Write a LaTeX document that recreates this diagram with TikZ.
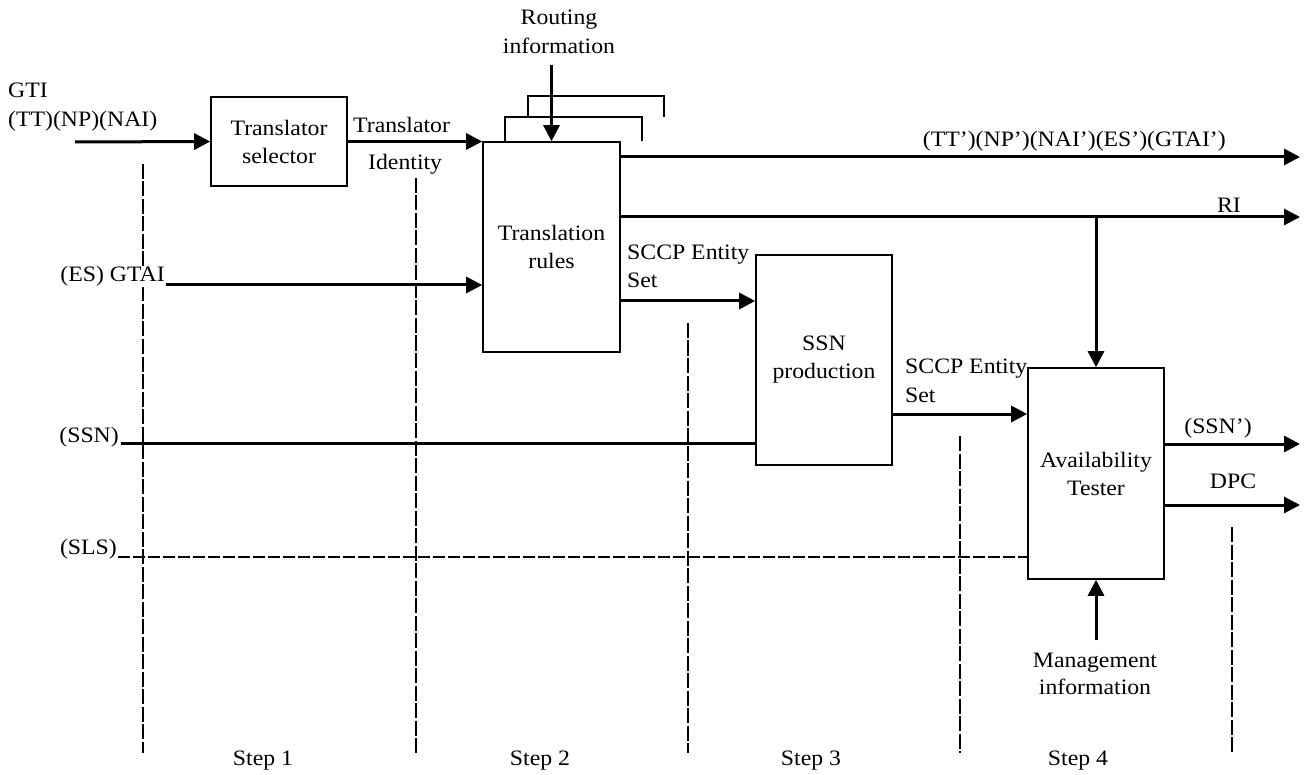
\documentclass[tikz,border=0pt]{standalone}
\usepackage{fontspec}
\setmainfont{Liberation Serif}[FakeStretch=1.08]
\usetikzlibrary{arrows.meta,calc}
\begin{document}
\begin{tikzpicture}[x=1pt,y=-1pt,
  every node/.style={font=\fontsize{22}{28}\selectfont},
  box/.style={draw, line width=1.6pt, align=center, inner sep=0pt},
  lbl/.style={inner sep=0pt, align=left},
  arr/.style={line width=3pt, -{Triangle[length=16pt,width=16pt]}},
  wire/.style={line width=3pt},
  dwire/.style={line width=2.6pt, dash pattern=on 12pt off 3pt},
  stepline/.style={line width=2.4pt, dash pattern=on 15pt off 2.5pt},
  brk/.style={line width=1.6pt}]
\useasboundingbox (0,0) rectangle (1311,775);

% step separators
\coordinate (d1a) at (143,164); \coordinate (d1b) at (143,753);
\coordinate (d2a) at (416,178); \coordinate (d2b) at (416,753);
\coordinate (d3a) at (688,323); \coordinate (d3b) at (688,753);
\coordinate (d4a) at (960,436); \coordinate (d4b) at (960,753);
\coordinate (d5a) at (1232,527); \coordinate (d5b) at (1232,753);
\draw[stepline] (d1a) -- (d1b);
\draw[stepline] (d2a) -- (d2b);
\draw[stepline] (d3a) -- (d3b);
\draw[stepline] (d4a) -- (d4b);
\draw[stepline] (d5a) -- (d5b);

% boxes
\node[box, minimum width=136pt, minimum height=89pt] (ts) at (279,141.5) {Translator\\selector};
\node[box, minimum width=137pt, minimum height=210pt] (tr) at (551.5,247) {Translation\\rules};
\node[box, minimum width=136pt, minimum height=210pt] (ssn) at (824,360) {SSN\\production};
\node[box, minimum width=136pt, minimum height=211pt] (av) at (1096,473.5) {Availability\\Tester};

% stacked brackets behind translation rules
\draw[brk] ($(tr.north west)+(23,0)$) -- ++(0,-24) -- ++(137,0) -- ++(0,24);
\draw[brk] ($(tr.north west)+(46,-24)$) -- ++(0,-21) -- ++(136,0) -- ++(0,21);

% labels
\node[lbl, anchor=base west] (gti) at (8,98) {GTI};
\node[lbl, anchor=base west] (ttnp) at (8,127) {(TT)(NP)(NAI)};
\node[lbl, anchor=base west] (tlab) at (353,133) {Translator};
\node[lbl, anchor=base west] (ilab) at (368,170) {Identity};
\node[lbl, anchor=base] (rlab) at (559,25) {Routing};
\node[lbl, anchor=base] (rlab2) at (559,54) {information};
\node[lbl, anchor=base east] (outlab) at (1226,147) {(TT’)(NP’)(NAI’)(ES’)(GTAI’)};
\node[lbl, anchor=base east] (rilab) at (1241,213) {RI};
\node[lbl, anchor=base east, fill=white] (eslab) at (165,282) {(ES) GTAI};
\node[lbl, anchor=base west] (sc1) at (627,260) {SCCP Entity};
\node[lbl, anchor=base west] (sc1b) at (627,288) {Set};
\node[lbl, anchor=base west] (sc2) at (905,373) {SCCP Entity};
\node[lbl, anchor=base west] (sc2b) at (905,402) {Set};
\node[lbl, anchor=base east] (ssnlab) at (119,442) {(SSN)};
\node[lbl, anchor=base east] (slslab) at (117,554) {(SLS)};
\node[lbl, anchor=base] (ssnp) at (1218,433) {(SSN’)};
\node[lbl, anchor=base] (dpc) at (1233,488) {DPC};
\node[lbl, anchor=base] (mg1) at (1095,667) {Management};
\node[lbl, anchor=base] (mg2) at (1095,694) {information};
\node[lbl, anchor=base] (s1) at (263,765) {Step 1};
\node[lbl, anchor=base] (s2) at (540,765) {Step 2};
\node[lbl, anchor=base] (s3) at (811,765) {Step 3};
\node[lbl, anchor=base] (s4) at (1078,765) {Step 4};

% free ends
\coordinate (gtiin) at (75,142);
\coordinate (rin) at (551.5,65);
\coordinate (o1) at (1300,157);
\coordinate (o2) at (1300,217);
\coordinate (esin) at (166,285);
\coordinate (y1) at (700,301);
\coordinate (y2) at (960,414);
\coordinate (ssnin) at (121,443);
\coordinate (slsin) at (118,557);
\coordinate (o3) at (1300,444);
\coordinate (o4) at (1300,505);
\coordinate (mgin) at (1096,640);

% connectors
\draw[arr] (gtiin) -- (ts.west);
\draw[arr] (ts.east) -- (ts.east -| tr.west);
\draw[arr] (rin) -- (tr.north);
\draw[arr] (o1 -| tr.east) -- (o1);
\draw[arr] (o2 -| tr.east) -- (o2);
\draw[arr] (av.north |- o2) -- (av.north);
\draw[arr] (esin) -- (esin -| tr.west);
\draw[arr] (y1 -| tr.east) -- (y1 -| ssn.west);
\draw[arr] (y2 -| ssn.east) -- (y2 -| av.west);
\draw[wire] (ssnin) -- (ssnin -| ssn.west);
\draw[dwire] (slsin) -- (slsin -| av.west);
\draw[arr] (o3 -| av.east) -- (o3);
\draw[arr] (o4 -| av.east) -- (o4);
\draw[arr] (mgin) -- (av.south);
\end{tikzpicture}
\end{document}
